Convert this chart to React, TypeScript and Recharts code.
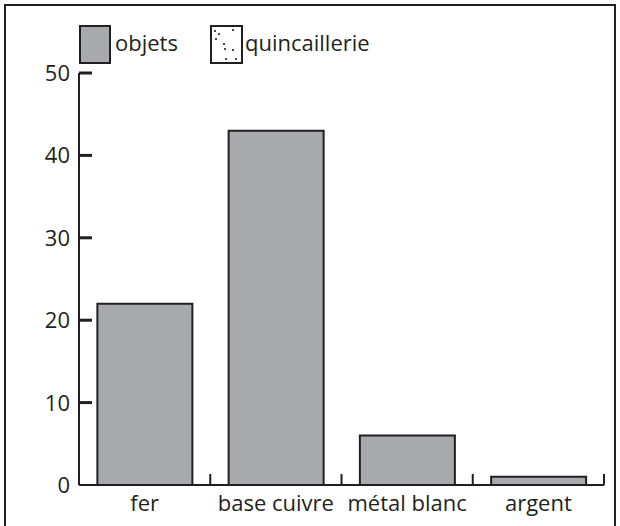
import { BarChart, Bar, XAxis, YAxis } from 'recharts';

const categories = ['fer', 'base cuivre', 'métal blanc', 'argent'];
const objets = [22, 43, 6, 1];
const yTicks = [0, 10, 20, 30, 40, 50];

const data = categories.map((name, i) => ({
    name,
    objets: objets[i]
}));

const INK = '#231f20';
const GREY = '#a7a9ac';
const FONT = '"Open Sans", sans-serif';
const FS = 22;
const PLOT_W = 525;
const BAND = PLOT_W / categories.length;

function DotBox({ width, height }: { width: number; height: number }) {
    return (
        <svg width={width} height={height} style={{ display: 'block' }}>
            <rect x={1} y={1} width={width - 2} height={height - 2} fill="#fff" stroke={INK} strokeWidth={2} />
            {[[5, 6], [9, 9], [23, 5], [14, 19], [15, 24], [23, 25], [16, 34], [26, 34], [6, 14]].map(([cx, cy], i) => (
                <circle key={i} cx={cx} cy={cy} r={1.1} fill={INK} />
            ))}
        </svg>
    );
}

const XTick = (props: any) => {
    const x = Number(props.x);
    const y = Number(props.y);
    const right = x + BAND / 2;
    return (
        <g>
            <rect x={right - 1} y={y - 11} width={2} height={11} fill={INK} />
            <text x={x} y={y} dy={26} textAnchor="middle" fontSize={FS} fill={INK} fontFamily={FONT}>
                {props.payload.value}
            </text>
        </g>
    );
};

// labels on the left, short tick pointing into the plot
const YTick = (props: any) => {
    const x = Number(props.x);
    const y = Number(props.y);
    const v = props.payload.value;
    return (
        <g>
            {v !== 0 && <rect x={x} y={y - 1.5} width={13} height={3} fill={INK} />}
            <text x={x - 9} y={y} dy={8} textAnchor="end" fontSize={FS} fill={INK} fontFamily={FONT}>
                {v}
            </text>
        </g>
    );
};

export default function App() {
    return (
        <div style={{ position: 'absolute', left: 0, top: 0, width: 620, height: 526, background: '#fff', overflow: 'hidden' }}>
            <div style={{ position: 'absolute', left: 0, top: 0 }}>
                <BarChart
                    width={620}
                    height={526}
                    data={data}
                    margin={{ top: 73, right: 16, bottom: 11, left: 19 }}
                    barCategoryGap="14%"
                >
                    <XAxis
                        dataKey="name"
                        axisLine={{ stroke: INK, strokeWidth: 2 }}
                        tickLine={false}
                        tickSize={0}
                        tickMargin={0}
                        height={30}
                        tick={<XTick />}
                        interval={0}
                    />
                    <YAxis
                        domain={[0, 50]}
                        ticks={yTicks}
                        width={60}
                        axisLine={{ stroke: INK, strokeWidth: 2 }}
                        tickLine={false}
                        tickSize={0}
                        tickMargin={0}
                        tick={<YTick />}
                        interval={0}
                    />
                    <Bar dataKey="objets" fill={GREY} stroke={INK} strokeWidth={2} isAnimationActive={false} />
                </BarChart>
            </div>
            {/* frame and legend */}
            <div style={{ position: 'absolute', left: 4, top: 4, width: 608, height: 530, border: `2px solid ${INK}`, pointerEvents: 'none' }} />
            <div style={{ position: 'absolute', left: 79, top: 25, width: 32, height: 39, boxSizing: 'border-box', background: GREY, border: `2px solid ${INK}` }} />
            <div style={{ position: 'absolute', left: 115, top: 29, fontFamily: FONT, fontSize: FS, color: INK, lineHeight: '26px' }}>objets</div>
            <div style={{ position: 'absolute', left: 210, top: 25 }}>
                <DotBox width={33} height={39} />
            </div>
            <div style={{ position: 'absolute', left: 245, top: 29, fontFamily: FONT, fontSize: FS, color: INK, lineHeight: '26px' }}>quincaillerie</div>
        </div>
    );
}
